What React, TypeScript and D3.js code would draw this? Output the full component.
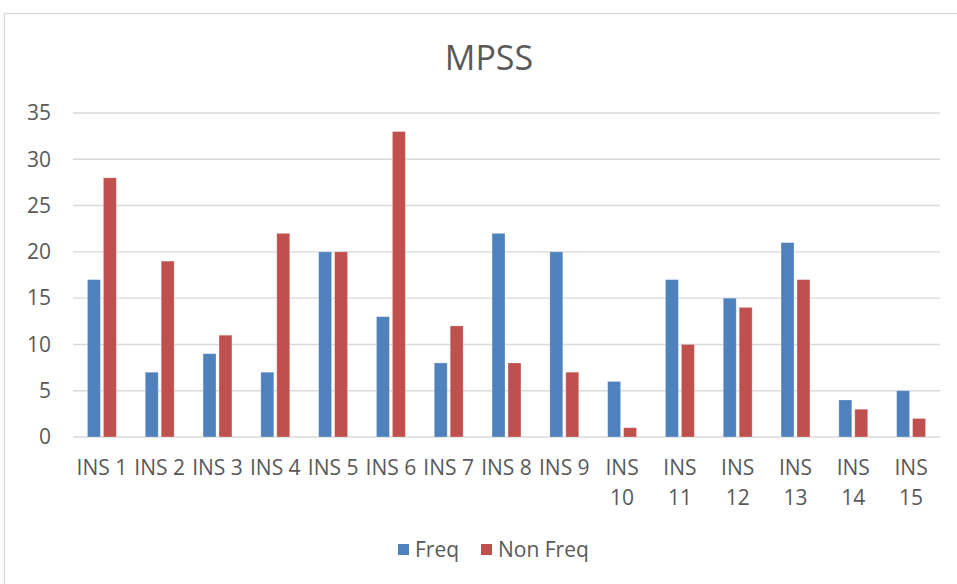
import React from "react";
import * as d3 from "d3";

const categories = ["INS 1","INS 2","INS 3","INS 4","INS 5","INS 6","INS 7","INS 8","INS 9","INS 10","INS 11","INS 12","INS 13","INS 14","INS 15"];
const freq = [17,7,9,7,20,13,8,22,20,6,17,15,21,4,5];
const nonFreq = [28,19,11,22,20,33,12,8,7,1,10,14,17,3,2];
const seriesNames = ["Freq","Non Freq"];
const seriesColors = ["#4F81BD","#C0504D"];
const yTicks = [0,5,10,15,20,25,30,35];

const W = 957, H = 584;
const FONT = "'Liberation Sans Narrow', 'Open Sans', sans-serif";

export default function App() {
  const x0 = d3.scaleBand<string>().domain(categories).range([73, 940]).paddingInner(0.5).paddingOuter(0.25);
  const x1 = d3.scaleBand<string>().domain(seriesNames).range([0, x0.bandwidth()]).paddingInner(0.1875).paddingOuter(0);
  const y = d3.scaleLinear().domain([0, 35]).range([437, 113]);
  const series = [freq, nonFreq];

  return (
    <svg width={W} height={H} style={{ position: "absolute", left: 0, top: 0, background: "#fff" }} fontFamily={FONT}>
      <rect x={4.5} y={13.5} width={1000} height={700} fill="#fff" stroke="#d9d9d9" strokeWidth={1.3} />
      <text x={489} y={70} textAnchor="middle" fontSize={34} fill="#595959">MPSS</text>
      {yTicks.map(t => (
        <g key={t}>
          <line x1={73} x2={940} y1={y(t)} y2={y(t)} stroke="#d9d9d9" strokeWidth={1.4} />
          <text x={51} y={y(t)} dy="0.35em" textAnchor="end" fontSize={21} fill="#595959">{t}</text>
        </g>
      ))}
      {categories.map((c, i) => (
        <g key={c}>
          {series.map((s, j) => (
            <rect key={j}
              x={(x0(c) as number) + (x1(seriesNames[j]) as number)}
              y={y(s[i])}
              width={x1.bandwidth()}
              height={y(0) - y(s[i])}
              fill={seriesColors[j]}
              stroke="#ffffff" strokeOpacity={0.35} strokeWidth={0.8} />
          ))}
        </g>
      ))}
      {categories.map(c => {
        const cx = (x0(c) as number) + x0.bandwidth() / 2;
        const lines = c.length > 5 ? c.split(" ") : [c];
        return (
          <text key={c} x={cx} y={475} textAnchor="middle" fontSize={21} fill="#595959">
            {lines.map((l, k) => (
              <tspan key={k} x={cx} dy={k === 0 ? 0 : 30}>{l}</tspan>
            ))}
          </text>
        );
      })}
      <g>
        <rect x={398} y={544} width={11} height={11} fill={seriesColors[0]} />
        <text x={415} y={550} dy="0.35em" fontSize={21} fill="#595959">{seriesNames[0]}</text>
        <rect x={481} y={544} width={11} height={11} fill={seriesColors[1]} />
        <text x={498} y={550} dy="0.35em" fontSize={21} fill="#595959">{seriesNames[1]}</text>
      </g>
    </svg>
  );
}
